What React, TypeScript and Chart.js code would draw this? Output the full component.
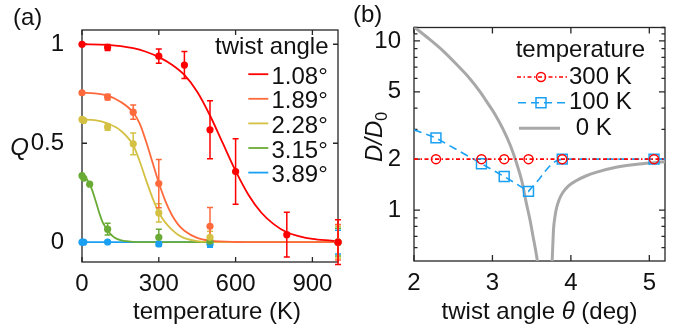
import { useEffect, useRef } from 'react';
import { Chart, registerables } from 'chart.js';
Chart.register(...registerables);

const FONT = '"Liberation Sans", Arial, Helvetica, sans-serif';
const INK = '#111111';
const AXIS = '#262626';
const FS = 24;

// ---------- Panel (a): Q vs temperature ----------
const TWIST_ANGLES = ['1.08°', '1.89°', '2.28°', '3.15°', '3.89°'];
const COLORS_A = ['#ff0000', '#ff6a3d', '#d4c144', '#6aab35', '#1aa0f2'];
const TICKS_TEMP = [0, 300, 600, 900];
const TICKS_Q = [0, 0.5, 1];

const RED_T = [0, 100, 300, 400, 500, 600, 800, 1000];
const RED_Q = [1.0, 0.984, 0.94, 0.895, 0.568, 0.357, 0.038, 0.0];
const RED_E = [0, 0.015, 0.036, 0.068, 0.147, 0.165, 0.113, 0.113];

const ORANGE_T = [0, 100, 200, 300, 500, 1000];
const ORANGE_Q = [0.755, 0.733, 0.657, 0.296, 0.08, 0];
const ORANGE_E = [0, 0.015, 0.036, 0.122, 0.095, 0.09];

const YELLOW_T = [0, 7, 100, 200, 300, 500, 1000];
const YELLOW_Q = [0.62, 0.615, 0.582, 0.497, 0.148, 0.025, 0];
const YELLOW_E = [0, 0, 0.016, 0.055, 0.046, 0.03, 0.08];

const GREEN_T = [0, 7, 30, 100, 300, 500, 1000];
const GREEN_Q = [0.336, 0.323, 0.293, 0.066, 0.025, 0.005, 0];
const GREEN_E = [0, 0, 0, 0.03, 0.04, 0.02, 0.07];

const BLUE_T = [0, 7, 100, 300, 500, 1000];
const BLUE_Q = [0, 0, 0.001, -0.009, -0.01, 0];
const BLUE_E = [0, 0, 0.005, 0.012, 0.015, 0.06];

const RED_FIT_T = [0, 100, 200, 250, 300, 350, 400, 450, 500, 550, 600, 650, 700, 750, 800, 850, 900, 950, 1000];
const RED_FIT_Q = [1.0, 0.997, 0.98, 0.962, 0.935, 0.898, 0.845, 0.76, 0.64, 0.5, 0.36, 0.24, 0.15, 0.09, 0.05, 0.03, 0.017, 0.01, 0.006];

const ORANGE_FIT_T = [0, 50, 100, 150, 200, 225, 250, 275, 300, 325, 350, 375, 400, 450, 500, 600, 700, 1000];
const ORANGE_FIT_Q = [0.755, 0.752, 0.74, 0.71, 0.655, 0.6, 0.51, 0.405, 0.3, 0.21, 0.14, 0.09, 0.058, 0.022, 0.008, 0.001, 0, 0];

const YELLOW_FIT_T = [0, 50, 100, 150, 200, 225, 250, 275, 300, 325, 350, 375, 400, 450, 500, 600, 1000];
const YELLOW_FIT_Q = [0.62, 0.617, 0.6, 0.565, 0.49, 0.41, 0.315, 0.225, 0.15, 0.1, 0.065, 0.038, 0.021, 0.006, 0.002, 0, 0];

const GREEN_FIT_T = [0, 10, 20, 30, 40, 50, 60, 70, 80, 90, 100, 110, 125, 150, 175, 200, 300, 1000];
const GREEN_FIT_Q = [0.335, 0.33, 0.315, 0.293, 0.262, 0.222, 0.18, 0.138, 0.103, 0.08, 0.06, 0.043, 0.025, 0.01, 0.005, 0.002, 0, 0];

const BLUE_FIT_T = [0, 1000];
const BLUE_FIT_Q = [0, 0];

// ---------- Panel (b): D/D0 vs twist angle ----------
const TEMPS = ['300 K', '100 K', ' 0 K'];
const TICKS_ANGLE = [2, 3, 4, 5];
const TICKS_D = [1, 2, 5, 10];
const MINOR_D = [0.6, 0.7, 0.8, 0.9, 3, 4, 6, 7, 8, 9, 11, 12];

const ANGLES_MEAS = [2.28, 2.86, 3.15, 3.46, 3.89, 5.06];
const D_300K = [2, 2, 2, 2, 2, 2];
const D_100K = [2.67, 1.88, 1.58, 1.29, 2.0, 2.0];

const LINE_300K_X = [2, 5.2];
const LINE_300K_Y = [2, 2];
const LINE_100K_X = [2.0, 2.28, 2.86, 3.15, 3.46, 3.5, 3.55, 3.6, 3.66, 3.73, 3.8, 3.85, 3.89, 5.2];
const LINE_100K_Y = [2.98, 2.67, 1.88, 1.58, 1.29, 1.36, 1.44, 1.53, 1.67, 1.82, 1.94, 1.98, 2.0, 2.0];

const GRAY_L_X = [2.0, 2.2, 2.37, 2.55, 2.71, 2.85, 2.92, 3.03, 3.135, 3.23, 3.305, 3.38, 3.43, 3.48, 3.516, 3.55, 3.57, 3.59];
const GRAY_L_Y = [12.1, 10.2, 8.73, 7.2, 6.0, 4.95, 4.42, 3.7, 3.01, 2.4, 1.91, 1.45, 1.11, 0.87, 0.705, 0.58, 0.51, 0.44];
const GRAY_R_X = [3.752, 3.762, 3.779, 3.795, 3.813, 3.85, 3.897, 3.97, 4.067, 4.19, 4.32, 4.576, 4.87, 5.2];
const GRAY_R_Y = [0.42, 0.51, 0.772, 0.9, 1.01, 1.15, 1.27, 1.39, 1.49, 1.59, 1.67, 1.79, 1.87, 1.93];

const RED_B = '#ff0000';
const BLUE_B = '#1aa0f2';
const GRAY_B = '#a8a8a8';

const zip = (xs: number[], ys: number[]) => xs.map((x, i) => ({ x, y: ys[i] }));

const SERIES_A = [
  { t: RED_T, q: RED_Q, e: RED_E, ft: RED_FIT_T, fq: RED_FIT_Q },
  { t: ORANGE_T, q: ORANGE_Q, e: ORANGE_E, ft: ORANGE_FIT_T, fq: ORANGE_FIT_Q },
  { t: YELLOW_T, q: YELLOW_Q, e: YELLOW_E, ft: YELLOW_FIT_T, fq: YELLOW_FIT_Q },
  { t: GREEN_T, q: GREEN_Q, e: GREEN_E, ft: GREEN_FIT_T, fq: GREEN_FIT_Q },
  { t: BLUE_T, q: BLUE_Q, e: BLUE_E, ft: BLUE_FIT_T, fq: BLUE_FIT_Q },
];

function framePlugin(o: { xMajor: number[]; yMajor: number[]; yMinor?: number[]; major: number; minor: number }) {
  return {
    id: 'frame',
    beforeDatasetsDraw(chart: any) {
      const { ctx, chartArea, scales } = chart;
      const { left, right, top, bottom } = chartArea;
      ctx.save();
      ctx.strokeStyle = AXIS;
      ctx.lineWidth = 1.3;
      ctx.setLineDash([]);
      ctx.strokeRect(left, top, right - left, bottom - top);
      ctx.beginPath();
      for (const v of o.xMajor) {
        const p = scales.x.getPixelForValue(v);
        ctx.moveTo(p, bottom); ctx.lineTo(p, bottom - o.major);
        ctx.moveTo(p, top); ctx.lineTo(p, top + o.major);
      }
      for (const v of o.yMajor) {
        const p = scales.y.getPixelForValue(v);
        ctx.moveTo(left, p); ctx.lineTo(left + o.major, p);
        ctx.moveTo(right, p); ctx.lineTo(right - o.major, p);
      }
      for (const v of o.yMinor || []) {
        const p = scales.y.getPixelForValue(v);
        if (p < top || p > bottom) continue;
        ctx.moveTo(left, p); ctx.lineTo(left + o.minor, p);
        ctx.moveTo(right, p); ctx.lineTo(right - o.minor, p);
      }
      ctx.stroke();
      ctx.restore();
    },
  };
}

const errorBarPlugin = {
  id: 'errbars',
  afterDatasetDraw(chart: any, args: any) {
    if (args.index !== SERIES_A.length) return; // after the red fit line (last line drawn)
    const { ctx, scales } = chart;
    ctx.save();
    ctx.lineWidth = 1.5;
    for (let s = SERIES_A.length - 1; s >= 0; s--) {
      const ser = SERIES_A[s];
      ctx.strokeStyle = COLORS_A[s];
      ctx.beginPath();
      ser.t.forEach((t, i) => {
        const e = ser.e[i];
        if (!e) return;
        const px = scales.x.getPixelForValue(t);
        const p1 = scales.y.getPixelForValue(ser.q[i] + e);
        const p2 = scales.y.getPixelForValue(ser.q[i] - e);
        ctx.moveTo(px, p1); ctx.lineTo(px, p2);
        ctx.moveTo(px - 3, p1); ctx.lineTo(px + 3, p1);
        ctx.moveTo(px - 3, p2); ctx.lineTo(px + 3, p2);
      });
      ctx.stroke();
    }
    ctx.restore();
  },
};

const textAPlugin = {
  id: 'textA',
  afterDraw(chart: any) {
    const { ctx } = chart;
    ctx.save();
    ctx.fillStyle = INK;
    ctx.textBaseline = 'alphabetic';
    ctx.font = `${FS}px ${FONT}`;
    ctx.textAlign = 'left';
    ctx.fillText('(a)', 13, 25);
    ctx.textAlign = 'center';
    ctx.fillText('temperature (K)', 217, 319);
    ctx.font = `italic ${FS}px ${FONT}`;
    ctx.fillText('Q', 19.5, 154.5);
    ctx.font = `${FS}px ${FONT}`;
    ctx.textAlign = 'right';
    ctx.fillText('twist angle', 328.5, 54.3);
    ctx.textAlign = 'left';
    TWIST_ANGLES.forEach((lab, i) => {
      const base = 83.7 + i * 24.6;
      ctx.fillStyle = INK;
      ctx.fillText(lab, 271.5, base);
      ctx.strokeStyle = COLORS_A[i];
      ctx.lineWidth = 1.8;
      ctx.beginPath();
      ctx.moveTo(248.3, base - 9.5);
      ctx.lineTo(268.3, base - 9.5);
      ctx.stroke();
    });
    ctx.restore();
  },
};

function drawMarker(ctx: CanvasRenderingContext2D, kind: string, x: number, y: number, color: string) {
  ctx.save();
  ctx.setLineDash([]);
  ctx.strokeStyle = color;
  ctx.lineWidth = 1.5;
  ctx.beginPath();
  if (kind === 'circle') ctx.arc(x, y, 4.5, 0, Math.PI * 2);
  else ctx.rect(x - 5, y - 5, 10, 10);
  ctx.stroke();
  ctx.restore();
}

const textBPlugin = {
  id: 'textB',
  afterDraw(chart: any) {
    const { ctx } = chart;
    ctx.save();
    ctx.fillStyle = INK;
    ctx.textBaseline = 'alphabetic';
    ctx.font = `${FS}px ${FONT}`;
    ctx.textAlign = 'left';
    ctx.fillText('(b)', 11, 22);

    // x title: twist angle θ (deg)
    const p1 = 'twist angle ';
    const p3 = ' (deg)';
    ctx.font = `${FS}px ${FONT}`;
    const w1 = ctx.measureText(p1).width;
    const w3 = ctx.measureText(p3).width;
    ctx.font = `italic ${FS}px ${FONT}`;
    const w2 = ctx.measureText('θ').width;
    const x0 = 197.5 - (w1 + w2 + w3) / 2;
    ctx.font = `${FS}px ${FONT}`;
    ctx.fillText(p1, x0, 319);
    ctx.font = `italic ${FS}px ${FONT}`;
    ctx.fillText('θ', x0 + w1, 319);
    ctx.font = `${FS}px ${FONT}`;
    ctx.fillText(p3, x0 + w1 + w2, 319);

    // y title: D/D0 rotated
    ctx.save();
    ctx.translate(382 - 342, 137);
    ctx.rotate(-Math.PI / 2);
    ctx.font = `italic ${FS}px ${FONT}`;
    const wd = ctx.measureText('D/D').width;
    ctx.font = `16px ${FONT}`;
    const ws = ctx.measureText('0').width;
    const sx = -(wd + ws) / 2;
    ctx.font = `italic ${FS}px ${FONT}`;
    ctx.fillText('D/D', sx, 0);
    ctx.font = `16px ${FONT}`;
    ctx.fillText('0', sx + wd, 5);
    ctx.restore();

    // legend
    ctx.font = `${FS}px ${FONT}`;
    ctx.fillStyle = INK;
    ctx.fillText('temperature', 173.7, 57);
    const lineY = [77, 102.7, 128.3];
    const baseY = [83.5, 109, 134.5];
    const textX = [227, 227, 227];
    TEMPS.forEach((lab, i) => ctx.fillText(lab, textX[i], baseY[i]));
    // 300 K
    ctx.strokeStyle = RED_B; ctx.lineWidth = 1.6; ctx.setLineDash([4, 2.5, 1.5, 2.5]);
    ctx.beginPath(); ctx.moveTo(175, lineY[0]); ctx.lineTo(225, lineY[0]); ctx.stroke();
    drawMarker(ctx, 'circle', 199, lineY[0], RED_B);
    // 100 K
    ctx.strokeStyle = BLUE_B; ctx.lineWidth = 1.6; ctx.setLineDash([8, 5]);
    ctx.beginPath(); ctx.moveTo(176, lineY[1]); ctx.lineTo(225, lineY[1]); ctx.stroke();
    drawMarker(ctx, 'rect', 199, lineY[1], BLUE_B);
    // 0 K
    ctx.strokeStyle = GRAY_B; ctx.lineWidth = 3; ctx.setLineDash([]);
    ctx.beginPath(); ctx.moveTo(177, lineY[2]); ctx.lineTo(218, lineY[2]); ctx.stroke();
    ctx.restore();
  },
};

const tickFont = { family: FONT, size: FS };

function configA(): any {
  const pointSets = SERIES_A.map((s, i) => ({
    type: 'scatter',
    data: zip(s.t, s.q),
    showLine: false,
    pointRadius: 3.6,
    pointBackgroundColor: COLORS_A[i],
    pointBorderWidth: 0,
    clip: false,
  }));
  const fitSets = SERIES_A.map((s, i) => ({
    type: 'line',
    data: zip(s.ft, s.fq),
    borderColor: COLORS_A[i],
    borderWidth: 1.8,
    pointRadius: 0,
    fill: false,
    cubicInterpolationMode: 'monotone',
    clip: false,
  }));
  return {
    type: 'line',
    data: { datasets: [...pointSets, ...fitSets] },
    options: {
      responsive: false,
      animation: false,
      events: [],
      layout: { padding: { top: 30, right: 4, left: 0, bottom: 0 } },
      plugins: { legend: { display: false }, tooltip: { enabled: false } },
      scales: {
        x: {
          type: 'linear', min: 0, max: 1000,
          grid: { display: false }, border: { display: false },
          ticks: { font: tickFont, color: INK, padding: 0, maxRotation: 0, autoSkip: false, callback: (v: number) => String(v) },
          afterBuildTicks: (s: any) => { s.ticks = TICKS_TEMP.map((v) => ({ value: v })); },
          afterFit: (s: any) => { s.height = 67; },
        },
        y: {
          type: 'linear', min: -0.1, max: 1.072,
          grid: { display: false }, border: { display: false },
          ticks: { font: tickFont, color: INK, padding: 10, autoSkip: false, callback: (v: number) => String(v) },
          afterBuildTicks: (s: any) => { s.ticks = TICKS_Q.map((v) => ({ value: v })); },
          afterFit: (s: any) => { s.width = 82; },
        },
      },
    },
    plugins: [framePlugin({ xMajor: TICKS_TEMP, yMajor: TICKS_Q, major: 5, minor: 3 }), errorBarPlugin, textAPlugin],
  };
}

function configB(): any {
  return {
    type: 'line',
    data: {
      datasets: [
        { type: 'scatter', data: zip(ANGLES_MEAS, D_300K), showLine: false, pointStyle: 'circle', pointRadius: 4.5, pointBorderColor: RED_B, pointBackgroundColor: 'rgba(0,0,0,0)', pointBorderWidth: 1.5, clip: false },
        { type: 'scatter', data: zip(ANGLES_MEAS, D_100K), showLine: false, pointStyle: 'rect', pointRadius: 7, pointBorderColor: BLUE_B, pointBackgroundColor: 'rgba(0,0,0,0)', pointBorderWidth: 1.5, clip: false },
        { type: 'line', data: zip(LINE_300K_X, LINE_300K_Y), borderColor: RED_B, borderWidth: 1.6, borderDash: [4, 2.5, 1.5, 2.5], pointRadius: 0, tension: 0 },
        { type: 'line', data: zip(LINE_100K_X, LINE_100K_Y), borderColor: BLUE_B, borderWidth: 1.6, borderDash: [8, 5], pointRadius: 0, tension: 0 },
        { type: 'line', data: zip(GRAY_L_X, GRAY_L_Y), borderColor: GRAY_B, borderWidth: 3, pointRadius: 0, cubicInterpolationMode: 'monotone' },
        { type: 'line', data: zip(GRAY_R_X, GRAY_R_Y), borderColor: GRAY_B, borderWidth: 3, pointRadius: 0, cubicInterpolationMode: 'monotone' },
      ],
    },
    options: {
      responsive: false,
      animation: false,
      events: [],
      layout: { padding: { top: 27.5, right: 19, left: 0, bottom: 0 } },
      plugins: { legend: { display: false }, tooltip: { enabled: false } },
      scales: {
        x: {
          type: 'linear', min: 2, max: 5.2,
          grid: { display: false }, border: { display: false },
          ticks: { font: tickFont, color: INK, padding: 0, maxRotation: 0, autoSkip: false, callback: (v: number) => String(v) },
          afterBuildTicks: (s: any) => { s.ticks = TICKS_ANGLE.map((v) => ({ value: v })); },
          afterFit: (s: any) => { s.height = 68; },
        },
        y: {
          type: 'logarithmic', min: 0.5, max: 12,
          grid: { display: false }, border: { display: false },
          ticks: { font: tickFont, color: INK, padding: 5, autoSkip: false, callback: (v: number) => String(v) },
          afterBuildTicks: (s: any) => { s.ticks = TICKS_D.map((v) => ({ value: v })); },
          afterFit: (s: any) => { s.width = 72; },
        },
      },
    },
    plugins: [framePlugin({ xMajor: TICKS_ANGLE, yMajor: TICKS_D, yMinor: MINOR_D, major: 6, minor: 3.5 }), textBPlugin],
  };
}

export default function App() {
  const refA = useRef<HTMLCanvasElement>(null);
  const refB = useRef<HTMLCanvasElement>(null);
  useEffect(() => {
    const a = new Chart(refA.current as HTMLCanvasElement, configA());
    const b = new Chart(refB.current as HTMLCanvasElement, configB());
    return () => { a.destroy(); b.destroy(); };
  }, []);
  return (
    <div style={{ position: 'absolute', left: 0, top: 0, width: 684, height: 329, background: '#ffffff' }}>
      <canvas ref={refA} width={342} height={329} style={{ position: 'absolute', left: 0, top: 0 }} />
      <canvas ref={refB} width={342} height={329} style={{ position: 'absolute', left: 342, top: 0 }} />
    </div>
  );
}
